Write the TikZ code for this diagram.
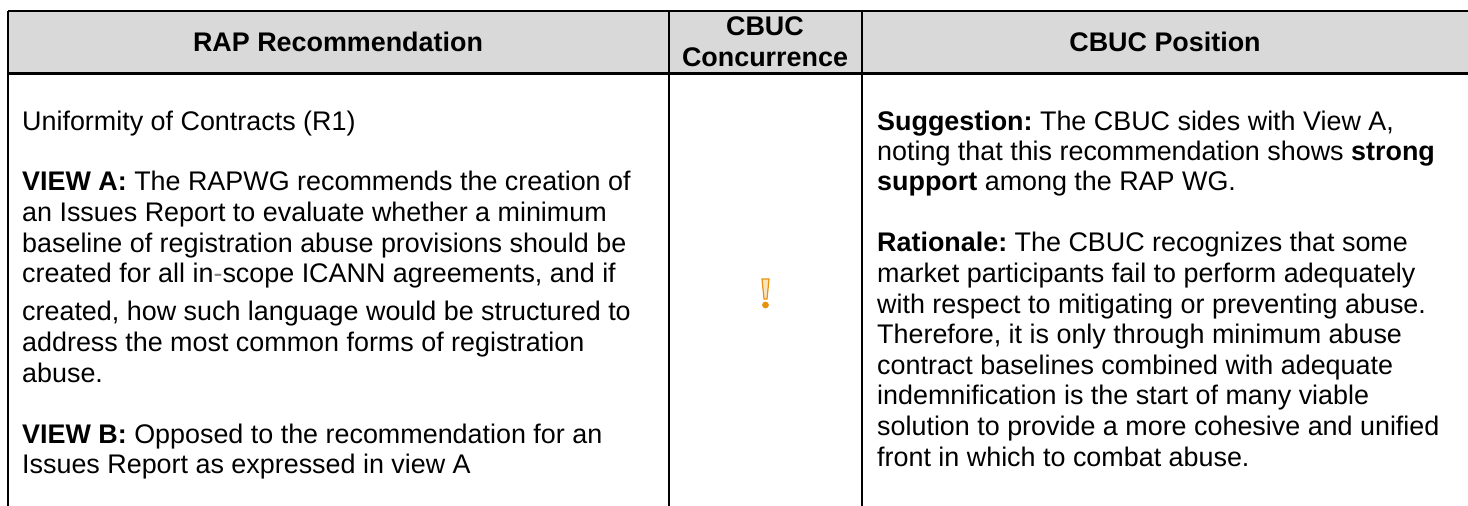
\documentclass[tikz,border=0pt]{standalone}
\usepackage{fontspec}
\setmainfont{Liberation Sans}
\definecolor{hdr}{HTML}{D9D9D9}
\definecolor{ex}{HTML}{E8920C}
\tikzset{
 txt/.style={anchor=base west,inner sep=0pt,font=\fontsize{26.9}{30}\selectfont\frenchspacing},
 hd/.style={anchor=base,inner sep=0pt,font=\fontsize{26.9}{30}\selectfont\bfseries},
 rule/.style={line width=2.2pt,black}
}
\begin{document}
\begin{tikzpicture}[x=1pt,y=-1pt]
\useasboundingbox (0,0) rectangle (1468,506);
\fill[hdr] (8,11) rectangle (1468,73.5);
\coordinate (tl) at (8,11); \coordinate (tr) at (1468,11);
\coordinate (ml) at (8,73.5); \coordinate (mr) at (1468,73.5);
\coordinate (bl) at (8,506); \coordinate (a1) at (669,11); \coordinate (a2) at (669,506);
\coordinate (b1) at (862,11); \coordinate (b2) at (862,506);
\draw[rule] (tl)--(tr); \draw[rule] (ml)--(mr);
\draw[rule] (tl)--(bl); \draw[rule] (a1)--(a2); \draw[rule] (b1)--(b2);
\node[hd] (h1) at (338,51.5) {RAP Recommendation};
\node[hd] (h2a) at (765,35) {CBUC};
\node[hd] (h2b) at (765,66) {Concurrence};
\node[hd] (h3) at (1165,51.5) {CBUC Position};
\node[txt] (l1) at (22,130.5) {Uniformity of Contracts (R1)};
\node[txt] (l2) at (22,190.5) {\textbf{VIEW A:} The RAPWG recommends the creation of};
\node[txt] (l3) at (22,221) {an Issues Report to evaluate whether a minimum};
\node[txt] (l4) at (22,252) {baseline of registration abuse provisions should be};
\node[txt] (l5) at (22,282.5) {created for all in{\color{gray}-}scope ICANN agreements, and if};
\node[txt] (l6) at (22,320.5) {created, how such language would be structured to};
\node[txt] (l7) at (22,351) {address the most common forms of registration};
\node[txt] (l8) at (22,382) {abuse.};
\node[txt] (l9) at (22,443) {\textbf{VIEW B:} Opposed to the recommendation for an};
\node[txt] (l10) at (22,473.5) {Issues Report as expressed in view A};
\node[txt] (r1) at (877,130) {\textbf{Suggestion:} The CBUC sides with View A,};
\node[txt] (r2) at (877,160.7) {noting that this recommendation shows \textbf{strong}};
\node[txt] (r3) at (877,190.7) {\textbf{support} among the RAP WG.};
\node[txt] (r4) at (877,251.7) {\textbf{Rationale:} The CBUC recognizes that some};
\node[txt] (r5) at (877,282.3) {market participants fail to perform adequately};
\node[txt] (r6) at (877,313.3) {with respect to mitigating or preventing abuse.};
\node[txt] (r7) at (877,343.5) {Therefore, it is only through minimum abuse};
\node[txt] (r8) at (877,374) {contract baselines combined with adequate};
\node[txt] (r9) at (877,404.5) {indemnification is the start of many viable};
\node[txt] (r10) at (877,435.5) {solution to provide a more cohesive and unified};
\node[txt] (r11) at (877,466.2) {front in which to combat abuse.};
\draw[ex,line width=1.2pt,fill=ex!25] (762,279) -- (769,279) -- (767,299) -- (764,299) -- cycle;
\fill[ex] (765.5,305) circle (3.4);
\end{tikzpicture}
\end{document}
